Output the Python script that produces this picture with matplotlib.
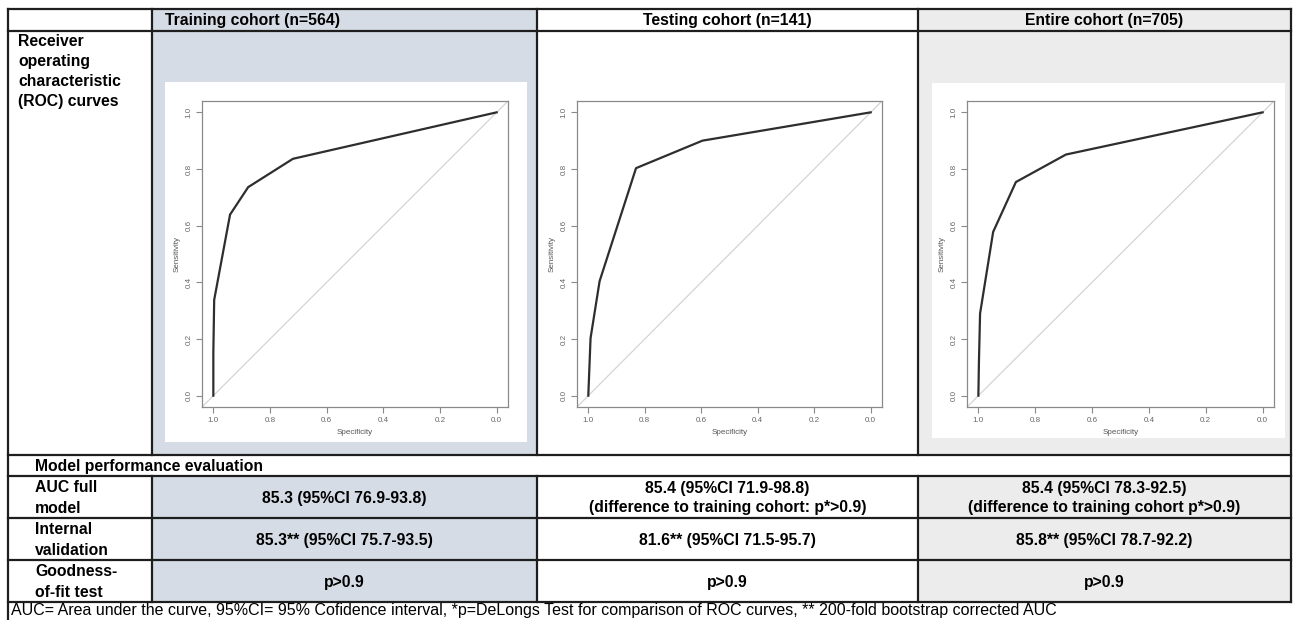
import matplotlib.pyplot as plt
from matplotlib.patches import Rectangle

plt.rcParams['font.family'] = ['Liberation Sans', 'DejaVu Sans']

# Daten
cohorts = ["Training cohort (n=564)", "Testing cohort (n=141)", "Entire cohort (n=705)"]
row_labels = ["AUC full\nmodel", "Internal\nvalidation", "Goodness-\nof-fit test"]
auc_full = ["85.3 (95%CI 76.9-93.8)",
            "85.4 (95%CI 71.9-98.8)\n(difference to training cohort: p*>0.9)",
            "85.4 (95%CI 78.3-92.5)\n(difference to training cohort p*>0.9)"]
internal_val = ["85.3** (95%CI 75.7-93.5)", "81.6** (95%CI 71.5-95.7)", "85.8** (95%CI 78.7-92.2)"]
goodness = ["p>0.9", "p>0.9", "p>0.9"]
footnote = ("AUC= Area under the curve, 95%CI= 95% Cofidence interval, *p=DeLongs Test for "
            "comparison of ROC curves, ** 200-fold bootstrap corrected AUC")

# ROC-Kurven (Spezifität, Sensitivität)
train_spec = [1.0, 1.0, 0.997, 0.941, 0.877, 0.719, 0.0]
train_sens = [0.0, 0.15, 0.338, 0.639, 0.736, 0.836, 1.0]
test_spec = [1.0, 0.992, 0.96, 0.831, 0.596, 0.0]
test_sens = [0.0, 0.203, 0.404, 0.803, 0.900, 1.0]
entire_spec = [1.0, 0.998, 0.994, 0.948, 0.868, 0.692, 0.0]
entire_sens = [0.0, 0.12, 0.29, 0.578, 0.754, 0.851, 1.0]

W, H = 1293, 620
fig = plt.figure(figsize=(W / 100, H / 100), dpi=100)
tab = fig.add_axes([0, 0, 1, 1])
tab.set_xlim(0, W)
tab.set_ylim(H, 0)
tab.axis("off")

# Tabellenraster (Pixel)
x_cols = [8, 152, 537, 918, 1291]
y_rows = [9, 31, 455, 476, 518, 560, 602, 622]
shades = ["#d6dce5", None, "#ececec"]
line_kw = dict(color="#1e1e1e", lw=1.6)

# Schattierung der Spalten
for i, c in enumerate(shades):
    if c is None:
        continue
    x0, x1 = x_cols[i + 1], x_cols[i + 2]
    tab.add_patch(Rectangle((x0, y_rows[0]), x1 - x0, y_rows[2] - y_rows[0], color=c, lw=0))
    tab.add_patch(Rectangle((x0, y_rows[3]), x1 - x0, y_rows[6] - y_rows[3], color=c, lw=0))

# horizontale Linien
for y in y_rows[:-1]:
    tab.plot([x_cols[0], x_cols[-1]], [y, y], **line_kw)
# vertikale Linien
tab.plot([x_cols[0], x_cols[0]], [y_rows[0], H], **line_kw)
tab.plot([x_cols[-1], x_cols[-1]], [y_rows[0], y_rows[6]], **line_kw)
for x in x_cols[1:-1]:
    tab.plot([x, x], [y_rows[0], y_rows[2]], **line_kw)
    tab.plot([x, x], [y_rows[3], y_rows[6]], **line_kw)

fs = 11.3
# Kopfzeile
tab.text(x_cols[1] + 13, 20, cohorts[0], fontsize=fs, weight="bold", va="center", ha="left")
for i in (1, 2):
    tab.text((x_cols[i + 1] + x_cols[i + 2]) / 2, 20, cohorts[i], fontsize=fs, weight="bold",
             va="center", ha="center")

tab.text(18, 34, "Receiver\noperating\ncharacteristic\n(ROC) curves", fontsize=fs, weight="bold",
         va="top", ha="left", linespacing=1.43)
tab.text(35, 466, "Model performance evaluation", fontsize=fs, weight="bold", va="center", ha="left")

for r, vals in enumerate([auc_full, internal_val, goodness]):
    yc = (y_rows[3 + r] + y_rows[4 + r]) / 2
    tab.text(35, yc + 1, row_labels[r], fontsize=fs, weight="bold", va="center", ha="left",
             linespacing=1.46)
    for i, v in enumerate(vals):
        tab.text((x_cols[i + 1] + x_cols[i + 2]) / 2, yc + 1, v, fontsize=fs, weight="bold",
                 va="center", ha="center", linespacing=1.38)

tab.text(11, 611, footnote, fontsize=11.5, va="center", ha="left")

# weiße Bildflächen der ROC-Plots
panels = [(165, 82, 527, 442), None, (932, 83, 1285, 438)]
for p in panels:
    if p is not None:
        tab.add_patch(Rectangle((p[0], p[1]), p[2] - p[0], p[3] - p[1], color="white", lw=0))


def px_axes(left, top, right, bottom):
    return fig.add_axes([left / W, 1 - bottom / H, (right - left) / W, (bottom - top) / H])


roc_boxes = [(202, 101, 508, 407), (577, 101, 882, 407), (967, 101, 1274, 407)]
roc_data = [(train_spec, train_sens), (test_spec, test_sens), (entire_spec, entire_sens)]
ticks = [0.0, 0.2, 0.4, 0.6, 0.8, 1.0]
grey = "#8a8a8a"

for box, (spec, sens) in zip(roc_boxes, roc_data):
    ax = px_axes(*box)
    ax.set_facecolor("white")
    ax.axline((1, 0), (0, 1), color="#d4d4d4", lw=0.9)
    ax.plot(spec, sens, color="#2e2e2e", lw=1.6)
    ax.set_xlim(1.04, -0.04)
    ax.set_ylim(-0.04, 1.04)
    ax.set_xticks(ticks)
    ax.set_yticks(ticks)
    ax.set_xticklabels([f"{t:.1f}" for t in ticks])
    ax.set_yticklabels([f"{t:.1f}" for t in ticks], rotation=90, va="center")
    ax.tick_params(length=4, width=0.8, color=grey, labelcolor="#666666", labelsize=5.8, pad=3)
    for s in ax.spines.values():
        s.set_color(grey)
        s.set_linewidth(0.9)
    ax.set_xlabel("Specificity", fontsize=5.8, color="#555555", labelpad=4)
    ax.set_ylabel("Sensitivity", fontsize=5.8, color="#555555", labelpad=3)

fig.savefig("out.png", dpi=100)
